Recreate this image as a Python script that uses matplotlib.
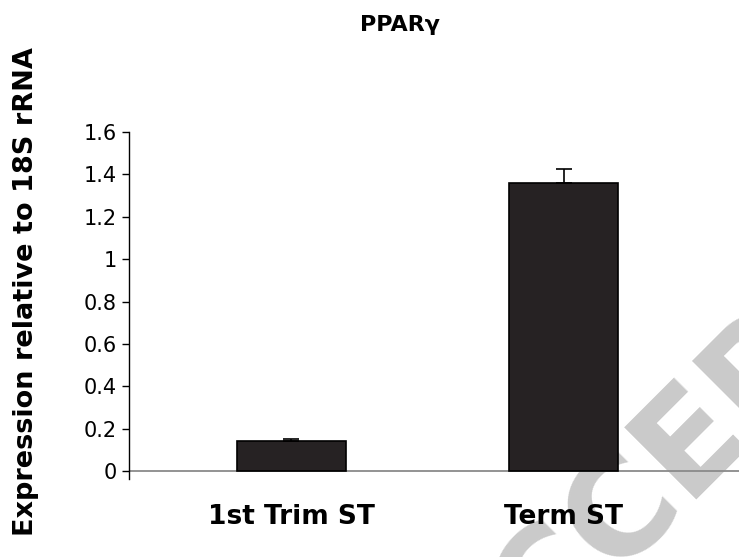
import numpy as np
import matplotlib
matplotlib.use('Agg')
import matplotlib.pyplot as plt

groups = ['1st Trim ST', 'Term ST']
expression = [0.14, 1.36]
sem = [0.01, 0.065]
yticks = [0, 0.2, 0.4, 0.6, 0.8, 1, 1.2, 1.4, 1.6]
ytick_labels = ['0', '0.2', '0.4', '0.6', '0.8', '1', '1.2', '1.4', '1.6']

plt.rcParams['font.family'] = ['DejaVu Sans']

fig = plt.figure(figsize=(7.39, 5.57), dpi=100)
ax = fig.add_axes([0.1739, 0.1400, 0.8261, 0.6230])
ax.set_facecolor('none')

# faint watermark, kept under the axes
fig.text(0.985, 0.258, 'ACCEPTED', fontsize=100, fontweight='bold', color='#cacaca',
         rotation=45, rotation_mode='anchor', ha='center', va='center', zorder=-1)

x = np.arange(len(groups))
ax.bar(x, expression, width=0.40, color='#262223', edgecolor='black', linewidth=1.2, zorder=3)
ax.errorbar(x, expression, yerr=[np.zeros(len(sem)), sem], fmt='none', ecolor='black',
            elinewidth=1.2, capsize=5.8, capthick=1.2, zorder=4)
ax.axhline(0, color='#8a8a8a', linewidth=1.3, zorder=2)

ax.set_xlim(-0.599, 1.645)
ax.set_ylim(-0.0378, 1.6)

for s in ['top', 'right', 'bottom']:
    ax.spines[s].set_visible(False)
ax.spines['left'].set_color('black')
ax.spines['left'].set_linewidth(1.0)

ax.set_yticks(yticks)
ax.set_yticklabels(ytick_labels, fontsize=15)
ax.tick_params(axis='y', direction='out', length=5, width=1.0, pad=3.5, colors='black')

ax.set_xticks(x)
ax.set_xticklabels(groups, fontsize=19, fontweight='bold')
ax.tick_params(axis='x', length=0, pad=18)

fig.text(0.541, 0.955, 'PPARγ', fontsize=16, fontweight='bold', ha='center', va='center')
fig.text(0.035, 0.476, 'Expression relative to 18S rRNA', fontsize=19.5, fontweight='bold',
         rotation=90, ha='center', va='center')

fig.savefig('out.png', dpi=100)
